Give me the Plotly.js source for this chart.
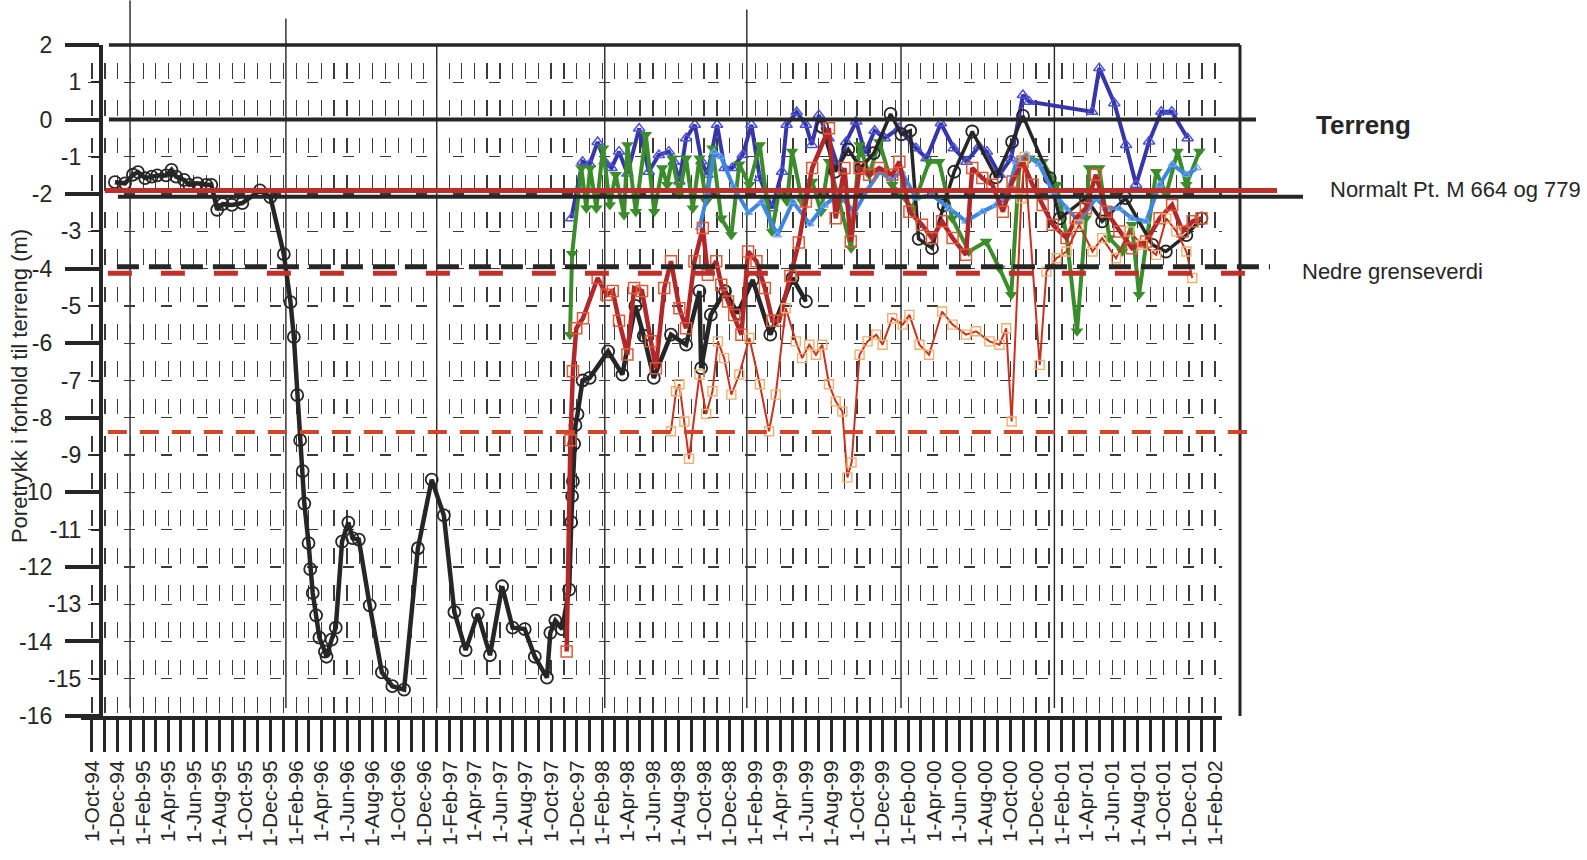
<!DOCTYPE html>
<html>
<head>
<meta charset="utf-8">
<script src="https://cdn.plot.ly/plotly-3.0.1.min.js"></script>
<style>html,body{margin:0;padding:0;background:#fff;}#chart{width:1587px;height:860px;}</style>
</head>
<body>
<div id="chart"></div>
<script>
// ---------------- DATA ----------------
const blackA_x = ["1994-11-25","1994-12-19","1995-01-07","1995-01-19","1995-02-05","1995-02-21","1995-03-06","1995-03-27","1995-04-09","1995-04-20","1995-05-09","1995-05-21","1995-06-10","1995-07-01","1995-07-13","1995-07-27","1995-08-09","1995-08-31","1995-09-25","1995-11-06","1995-12-01","1996-01-02","1996-01-18","1996-01-26","1996-02-03","1996-02-10","1996-02-16","1996-02-20","1996-03-01","1996-03-05","1996-03-11","1996-03-19","1996-03-27","1996-04-09","1996-04-13","1996-04-25","1996-05-05","1996-05-20","1996-06-04","1996-06-14","1996-06-29","1996-07-25","1996-08-23","1996-09-17","1996-10-15","1996-11-17","1996-12-20","1997-01-18","1997-02-12","1997-03-11","1997-04-09","1997-05-08","1997-06-06","1997-07-01","1997-07-30","1997-08-23","1997-09-21","1997-09-29","1997-10-11","1997-10-27","1997-11-13","1997-11-18","1997-11-20","1997-11-22","1997-11-25","1997-11-28","1997-12-03","1997-12-15","1998-01-01","1998-02-14","1998-03-20","1998-04-20","1998-05-10","1998-06-03","1998-07-14","1998-08-19","1998-09-20","1998-09-24","1998-10-17","1998-11-20","1998-12-20","1999-01-25","1999-03-08","1999-04-30","1999-06-01"];
const blackA_y = [-1.68,-1.71,-1.48,-1.41,-1.57,-1.53,-1.50,-1.50,-1.35,-1.53,-1.62,-1.75,-1.71,-1.75,-1.75,-2.42,-2.27,-2.29,-2.24,-1.9,-2.08,-3.61,-4.9,-5.83,-7.39,-8.6,-9.43,-10.3,-11.36,-12.06,-12.7,-13.3,-13.9,-14.27,-14.41,-13.95,-13.63,-11.32,-10.81,-11.23,-11.27,-13.03,-14.83,-15.2,-15.29,-11.5,-9.66,-10.62,-13.21,-14.23,-13.26,-14.37,-12.52,-13.63,-13.67,-14.41,-14.97,-13.77,-13.44,-13.67,-12.61,-10.8,-10.1,-9.7,-8.7,-8.2,-7.9,-7.0,-6.93,-6.22,-6.84,-5.0,-5.8,-6.93,-5.77,-6.04,-4.6,-6.67,-5.24,-4.6,-5.2,-4.3,-5.77,-4.25,-4.88];

const blackA2_x = ["1999-07-10","1999-08-10","1999-09-10","1999-10-10","1999-11-10","1999-12-20","2000-01-15","2000-02-05","2000-02-25","2000-03-28","2000-04-25","2000-05-20","2000-07-02","2000-08-28","2000-10-05","2000-10-31","2001-01-03","2001-01-27","2001-03-30","2001-05-08","2001-07-03","2001-09-05","2001-10-07","2001-11-25","2001-12-31"];
const blackA2_y = [-0.2,-1.4,-0.8,-1.3,-0.9,0.15,-0.4,-0.3,-3.2,-3.45,-2.3,-1.4,-0.32,-1.55,-0.6,0.1,-1.57,-2.65,-2.11,-2.73,-2.11,-3.36,-3.54,-3.1,-2.65];

const blueE_x = ["1997-11-18","1997-12-15","1998-01-01","1998-01-20","1998-02-06","1998-02-22","1998-03-12","1998-04-01","1998-04-29","1998-05-22","1998-06-15","1998-07-09","1998-07-21","1998-08-03","1998-08-19","1998-09-09","1998-09-25","1998-10-09","1998-11-01","1998-11-19","1998-12-07","1999-01-01","1999-01-22","1999-02-11","1999-03-12","1999-04-05","1999-04-16","1999-05-10","1999-06-01","1999-06-15","1999-07-02","1999-07-25","1999-08-18","1999-09-05","1999-09-29","1999-10-20","1999-11-12","1999-12-06","2000-01-09","2000-02-19","2000-03-15","2000-04-18","2000-05-19","2000-06-18","2000-07-18","2000-08-06","2000-09-05","2000-10-03","2000-10-31","2000-11-15","2001-04-14","2001-05-01","2001-06-06","2001-07-04","2001-07-28","2001-08-28","2001-09-26","2001-10-21","2001-11-28"];
const blueE_y = [-2.65,-1.13,-1.2,-0.6,-1.13,-1.3,-0.86,-1.45,-0.24,-1.4,-0.95,-0.86,-1.13,-1.66,-0.5,-0.14,-1.12,-1.48,-0.14,-1.3,-1.3,-0.95,-0.14,-1.57,-2.38,-1.4,-0.14,0.2,-0.14,-0.68,0.12,-0.5,-1.3,-0.6,-0.05,-0.9,-0.3,-0.5,-0.23,-0.77,-1.04,-0.1,-0.77,-1.13,-0.72,-0.86,-1.48,-1.04,0.66,0.48,0.21,1.38,0.44,-0.68,-1.75,-0.59,0.21,0.21,-0.5];

const greenD_x = ["1997-11-15","1997-11-20","1997-12-12","1997-12-24","1998-01-02","1998-01-17","1998-02-02","1998-02-18","1998-03-04","1998-03-24","1998-04-01","1998-04-21","1998-05-15","1998-06-04","1998-06-23","1998-07-05","1998-07-17","1998-08-03","1998-08-19","1998-09-04","1998-09-20","1998-10-06","1998-10-21","1998-11-11","1998-12-05","1998-12-24","1999-01-17","1999-02-11","1999-02-27","1999-03-12","1999-03-29","1999-04-17","1999-04-29","1999-05-23","1999-06-16","1999-07-07","1999-07-26","1999-08-19","1999-09-17","1999-10-07","1999-10-30","1999-11-23","1999-12-24","2000-02-10","2000-03-21","2000-04-14","2000-05-15","2000-06-24","2000-08-04","2000-09-05","2000-10-03","2000-10-23","2000-11-16","2000-12-17","2001-01-19","2001-02-12","2001-03-09","2001-03-30","2001-04-07","2001-05-01","2001-05-25","2001-06-25","2001-07-18","2001-08-04","2001-09-14","2001-10-08","2001-11-04","2001-11-25","2001-12-26"];
const greenD_y = [-5.77,-3.6,-1.3,-2.38,-1.3,-2.38,-0.77,-2.29,-1.48,-2.56,-0.68,-2.47,-0.41,-2.47,-1.3,-1.75,-1.04,-2.0,-1.04,-2.38,-1.04,-2.2,-0.77,-2.65,-3.1,-1.2,-1.75,-0.68,-2.11,-3.0,-1.93,-2.2,-0.86,-2.2,-1.66,-2.47,-1.13,-2.2,-3.45,-0.68,-1.48,-0.6,-1.75,-2.38,-1.13,-1.13,-2.65,-3.54,-3.27,-3.99,-4.7,-1.13,-1.04,-1.13,-1.75,-3.1,-5.68,-2.65,-1.3,-1.3,-3.18,-3.54,-2.82,-4.7,-1.4,-2.0,-0.86,-1.75,-0.86];

const lightF_x = ["1998-09-20","1998-10-09","1998-10-25","1998-11-10","1998-12-10","1999-01-15","1999-02-15","1999-03-25","1999-05-01","1999-06-10","1999-07-15","1999-08-19","1999-09-25","1999-10-25","1999-11-24","1999-12-20","2000-01-15","2000-02-19","2000-03-28","2000-05-08","2000-06-17","2000-07-26","2000-08-28","2000-09-21","2000-10-15","2000-11-08","2000-12-09","2001-01-10","2001-02-12","2001-03-14","2001-04-23","2001-05-17","2001-06-18","2001-07-18","2001-08-21","2001-09-22","2001-10-22","2001-11-25","2001-12-21"];
const lightF_y = [-2.9,-2.0,-0.86,-1.0,-1.8,-2.5,-2.2,-3.1,-2.2,-2.8,-2.3,-2.0,-2.5,-1.9,-1.4,-1.6,-1.4,-2.11,-2.02,-2.38,-2.73,-2.47,-2.29,-2.11,-1.13,-0.95,-1.2,-1.93,-2.38,-2.73,-2.11,-2.38,-2.38,-2.65,-2.73,-1.75,-1.2,-1.48,-1.3];

const redB_x = ["1997-11-07","1997-11-16","1997-11-22","1997-11-30","1997-12-16","1998-01-20","1998-02-10","1998-02-25","1998-03-12","1998-04-01","1998-04-17","1998-05-06","1998-05-27","1998-06-08","1998-06-28","1998-07-14","1998-08-03","1998-08-19","1998-09-08","1998-09-28","1998-10-10","1998-10-30","1998-11-11","1998-11-27","1998-12-12","1998-12-29","1999-01-14","1999-02-03","1999-02-23","1999-03-13","1999-03-29","1999-04-25","1999-05-15","1999-06-01","1999-06-16","1999-07-26","1999-08-11","1999-09-01","1999-09-16","1999-10-07","1999-10-30","1999-11-23","1999-12-24","2000-01-10","2000-02-03","2000-03-04","2000-03-28","2000-04-21","2000-05-16","2000-06-17","2000-07-02","2000-07-26","2000-08-19","2000-09-13","2000-10-06","2000-10-30","2000-11-23","2000-12-17","2001-01-10","2001-02-12","2001-03-06","2001-03-30","2001-04-23","2001-05-17","2001-06-18","2001-07-18","2001-08-21","2001-09-22","2001-10-22","2001-11-16","2001-12-10","2001-12-31"];
const redB_y = [-14.27,-8.6,-6.75,-5.6,-5.33,-4.25,-4.7,-4.6,-5.4,-6.3,-4.52,-4.6,-5.95,-6.67,-4.52,-3.8,-5.06,-5.6,-3.8,-2.91,-4.16,-3.8,-4.43,-4.88,-5.24,-5.77,-3.54,-3.8,-4.52,-5.4,-5.4,-4.2,-3.3,-2.2,-1.3,-0.23,-2.65,-1.3,-3.27,-1.3,-1.48,-1.3,-1.48,-1.13,-2.47,-2.82,-3.18,-2.73,-3.18,-3.63,-1.3,-1.57,-1.75,-2.47,-1.66,-1.13,-1.75,-2.29,-2.82,-3.18,-2.65,-2.38,-1.48,-2.47,-3.0,-3.45,-3.27,-2.65,-2.29,-3.0,-2.73,-2.65];

const orangeC_x = ["1998-07-14","1998-07-26","1998-08-03","1998-08-15","1998-08-26","1998-09-20","1998-10-06","1998-10-21","1998-11-03","1998-11-18","1998-12-05","1998-12-24","1999-01-17","1999-02-11","1999-03-05","1999-03-21","1999-04-14","1999-05-08","1999-05-23","1999-06-09","1999-06-25","1999-07-10","1999-07-26","1999-08-11","1999-08-27","1999-09-08","1999-09-18","1999-10-07","1999-10-26","1999-11-16","1999-12-01","1999-12-24","2000-01-18","2000-02-03","2000-02-27","2000-03-21","2000-04-21","2000-05-16","2000-06-17","2000-07-11","2000-08-12","2000-09-05","2000-09-21","2000-10-04","2000-10-27","2000-11-04","2000-12-10","2000-12-26","2001-01-19","2001-02-12","2001-03-14","2001-04-15","2001-05-08","2001-06-10","2001-07-11","2001-08-12","2001-09-14","2001-10-08","2001-11-01","2001-11-25","2001-12-09"];
const orangeC_y = [-8.36,-7.29,-7.1,-8.1,-9.1,-6.84,-7.9,-7.29,-5.95,-6.4,-7.38,-6.84,-5.86,-7.1,-8.36,-7.38,-5.06,-5.95,-6.4,-6.04,-6.31,-6.04,-7.1,-7.56,-7.83,-9.6,-9.2,-6.31,-5.95,-5.77,-6.04,-5.33,-5.5,-5.24,-6.04,-6.31,-5.15,-5.5,-5.77,-5.68,-5.95,-6.04,-5.6,-8.1,-2.11,-1.0,-6.58,-4.08,-3.72,-3.54,-2.82,-3.54,-3.18,-3.72,-3.0,-3.36,-3.63,-2.65,-3.0,-3.54,-4.25];

// reference levels (m relative to terrain)
const terrengY = 0;
const normalRedY = -1.9;
const normalBlackY = -2.07;
const nedreBlackY = -3.95;
const nedreRedY = -4.12;
const lowerRedY = -8.38;
const rightLabels = ["Terreng", "Normalt Pt. M 664 og 779", "Nedre grenseverdi"];
const rightLabelY = [-0.15, -1.88, -4.07];
// y tick labels (hyphen minus as in the original)
const evenTickVals = [2,0,-2,-4,-6,-8,-10,-12,-14,-16];
const evenTickText = ["2","0","-2","-4","-6","-8","-10","-12","-14","-16"];
const oddTickVals = [1,-1,-3,-5,-7,-9,-11,-13,-15];
const oddTickText = ["1","-1","-3","-5","-7","-9","-11","-13","-15"];
const yTitle = "Poretrykk i forhold til terreng (m)";
// year separator lines: date and top end (px) of each line
const yearLineX = ["1994-12-31","1996-01-07","1997-01-01","1998-02-06","1999-01-11","2000-01-14","2001-01-14"];
const yearLineTopPx = [0, 18, 44, 44, 9, 44, 44];

// ---------------- LAYOUT GEOMETRY ----------------
const FONT = 'Arial, "Liberation Sans", Helvetica, sans-serif';
const W = 1587, H = 860;
const L = 81.1, R = 365, T = 44.6, B = 144;
const PW = W - L - R;   // plot width
const PH = H - T - B;   // plot height
const px = p => (p - L) / PW;            // pixel -> paper x
const py = p => (H - B - p) / PH;        // pixel -> paper y
const INK = '#262626';
const GRID = '#3a3a3a';

function hline(y, x0p, x1p, color, width, dash) {
  return {type:'line', xref:'paper', yref:'y', x0:px(x0p), x1:px(x1p), y0:y, y1:y,
          line:{color:color, width:width, dash:dash||'solid'}, layer:'above'};
}

const shapes = [];
yearLineX.forEach((d, i) => shapes.push({type:'line', xref:'x', yref:'paper', x0:d, x1:d,
  y0:py(708), y1:py(yearLineTopPx[i]), line:{color:INK, width:1.4}, layer:'below'}));
// frame: top and right
shapes.push({type:'line', xref:'paper', yref:'paper', x0:px(109), x1:px(1240), y0:1, y1:1, line:{color:INK, width:3.5}});
shapes.push({type:'line', xref:'paper', yref:'paper', x0:px(1240), x1:px(1240), y0:0, y1:1, line:{color:INK, width:3}});
// reference lines
shapes.push(hline(terrengY, 109, 1256, INK, 4));
shapes.push(hline(lowerRedY, 108, 1260, '#d2452a', 4, '19px,13px'));
shapes.push(hline(nedreRedY, 108, 1270, '#c0302a', 5, '24px,29px'));
shapes.push(hline(nedreBlackY, 117, 1270, INK, 5, '22px,10px'));
shapes.push(hline(normalBlackY, 118, 1303, INK, 4));
shapes.push(hline(normalRedY, 105, 1277, '#bd2f2b', 5));

const annotations = [
  {xref:'paper', yref:'paper', x:px(19), y:py(386), text:yTitle, textangle:-90, showarrow:false,
   xanchor:'center', yanchor:'middle', font:{family:FONT, size:22, color:INK}},
  {xref:'paper', yref:'y', x:px(1314), y:rightLabelY[0], text:'<b>'+rightLabels[0]+'</b>', showarrow:false,
   xanchor:'left', yanchor:'middle', font:{family:FONT, size:26, color:INK}},
  {xref:'paper', yref:'y', x:px(1328), y:rightLabelY[1], text:rightLabels[1], showarrow:false,
   xanchor:'left', yanchor:'middle', font:{family:FONT, size:22, color:INK}},
  {xref:'paper', yref:'y', x:px(1300), y:rightLabelY[2], text:rightLabels[2], showarrow:false,
   xanchor:'left', yanchor:'middle', font:{family:FONT, size:22, color:INK}}
];

// dash patterns for the scanned-looking grid
const vGridDash = '0px,17.9px,15.7px,3.7px';
const hGridDash = '0px,6.5px,11px,19px';

const traces = [
  {name:'blackA', x:blackA_x, y:blackA_y, mode:'lines+markers', line:{color:INK, width:4.5},
   marker:{symbol:'circle-open', size:12, color:INK, line:{width:1.8, color:INK}}},
  {name:'blueE', x:blueE_x, y:blueE_y, mode:'lines+markers', line:{color:'#3636a8', width:4},
   marker:{symbol:'triangle-up-open', size:10, color:'#4a52d8', line:{width:1.5}}},
  {name:'greenD', x:greenD_x, y:greenD_y, mode:'lines+markers', line:{color:'#3b8d2b', width:4},
   marker:{symbol:'triangle-down', size:11, color:'#3b8d2b'}},
  {name:'blackA2', x:blackA2_x, y:blackA2_y, mode:'lines+markers', line:{color:INK, width:3.5},
   marker:{symbol:'circle-open', size:12, color:INK, line:{width:1.8, color:INK}}},
  {name:'lightF', x:lightF_x, y:lightF_y, mode:'lines+markers', line:{color:'#3f86e0', width:4},
   marker:{symbol:'triangle-up-open', size:7, color:'#6aa5f0', line:{width:1.2}}},
  {name:'redB', x:redB_x, y:redB_y, mode:'lines+markers', line:{color:'#b2282a', width:4.5},
   marker:{symbol:'square-open', size:11, color:'#dc5a3a', line:{width:1.5}}},
  {name:'orangeC', x:orangeC_x, y:orangeC_y, mode:'lines+markers', line:{color:'#c8321e', width:2},
   marker:{symbol:'square-open', size:9, color:'#eeb070', line:{width:1.4}}},
  // carrier for the odd-value tick labels on the overlaid axis
  {x:[blackA_x[0]], y:[blackA_y[0]], yaxis:'y2', mode:'markers', marker:{opacity:0}, hoverinfo:'skip', showlegend:false}
];

const layout = {
  width:W, height:H, showlegend:false,
  paper_bgcolor:'#ffffff', plot_bgcolor:'rgba(0,0,0,0)',
  margin:{l:L, r:R, t:T, b:B, pad:0},
  font:{family:FONT, color:INK},
  xaxis:{
    type:'date', range:['1994-09-05','2002-02-18'], fixedrange:true,
    showline:true, linewidth:4, linecolor:INK,
    ticks:'outside', ticklen:32, tickwidth:3, tickcolor:INK,
    tick0:'1994-10-01', dtick:'M2', tickformat:'%-d-%b-%y', tickangle:-90,
    tickfont:{family:FONT, size:21, color:INK}, ticklabelstandoff:0,
    showgrid:true, gridcolor:GRID, gridwidth:1.3, griddash:vGridDash,
    minor:{tick0:'1994-10-01', dtick:'M1', ticks:'outside', ticklen:32, tickwidth:3, tickcolor:INK,
           showgrid:true, gridcolor:GRID, gridwidth:1.3, griddash:vGridDash},
    zeroline:false
  },
  yaxis:{
    range:[-16,2], fixedrange:true, anchor:'free', position:px(101),
    showline:true, linewidth:4, linecolor:INK,
    ticks:'outside', ticklen:34, tickwidth:4, tickcolor:INK,
    tickmode:'array', tickvals:evenTickVals, ticktext:evenTickText,
    tickfont:{family:FONT, size:23, color:INK}, ticklabelstandoff:8,
    showgrid:true, gridcolor:GRID, gridwidth:1.3, griddash:hGridDash,
    zeroline:false
  },
  yaxis2:{
    range:[-16,2], fixedrange:true, overlaying:'y', anchor:'free', position:px(101), side:'left',
    showline:false, zeroline:false,
    tickmode:'array', tickvals:oddTickVals, ticktext:oddTickText,
    ticks:'outside', ticklen:10, tickwidth:2, tickcolor:INK,
    showgrid:true, gridcolor:GRID, gridwidth:1.3, griddash:hGridDash,
    tickfont:{family:FONT, size:23, color:INK}, ticklabelstandoff:5
  },
  shapes:shapes,
  annotations:annotations
};

Plotly.newPlot('chart', traces, layout, {staticPlot:true, displayModeBar:false});
</script>
</body>
</html>
